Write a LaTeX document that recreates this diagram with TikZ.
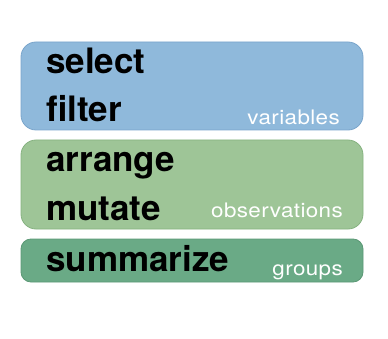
\documentclass[tikz,border=0pt]{standalone}
\usepackage{fontspec}
\setmainfont{TeX Gyre Heros}
\newfontfamily\tagfont[FakeStretch=1.12,LetterSpace=2]{TeX Gyre Heros}
\definecolor{varfill}{HTML}{8FB9DB}
\definecolor{varline}{HTML}{7AA5CB}
\definecolor{obsfill}{HTML}{9EC597}
\definecolor{obsline}{HTML}{86B280}
\definecolor{grpfill}{HTML}{6AAA86}
\definecolor{grpline}{HTML}{5B9875}
\begin{document}
\begin{tikzpicture}[x=1pt,y=-1pt,
    panel/.style={rectangle,rounded corners=15pt,line width=0.8pt,
      minimum width=342pt,inner sep=0pt},
    verb/.style={anchor=base west,inner sep=0pt,
      font=\fontsize{35}{35}\selectfont\bfseries},
    kind/.style={anchor=base east,inner sep=0pt,text=white,
      font=\tagfont\fontsize{20}{20}\selectfont}]
  \useasboundingbox (0,0) rectangle (388,339);
  % panels, one per kind of verb
  \node[panel,fill=varfill,draw=varline,minimum height=88pt] (vars) at (192,86) {};
  \node[panel,fill=obsfill,draw=obsline,minimum height=89pt] (obs) at (192,184.5) {};
  \node[panel,fill=grpfill,draw=grpline,minimum height=43pt,
    rounded corners=10pt] (grp) at (192,260.5) {};
  % verbs
  \foreach \name/\y in {select/74, filter/122, arrange/172, mutate/221,
      summarize/271}{
    \node[verb] (\name) at (46,\y) {\name};
  }
  % what each panel works on
  \node[kind] (variables) at (340,125) {variables};
  \node[kind] (observations) at (343,218) {observations};
  \node[kind] (groups) at (343,275) {groups};
\end{tikzpicture}
\end{document}
